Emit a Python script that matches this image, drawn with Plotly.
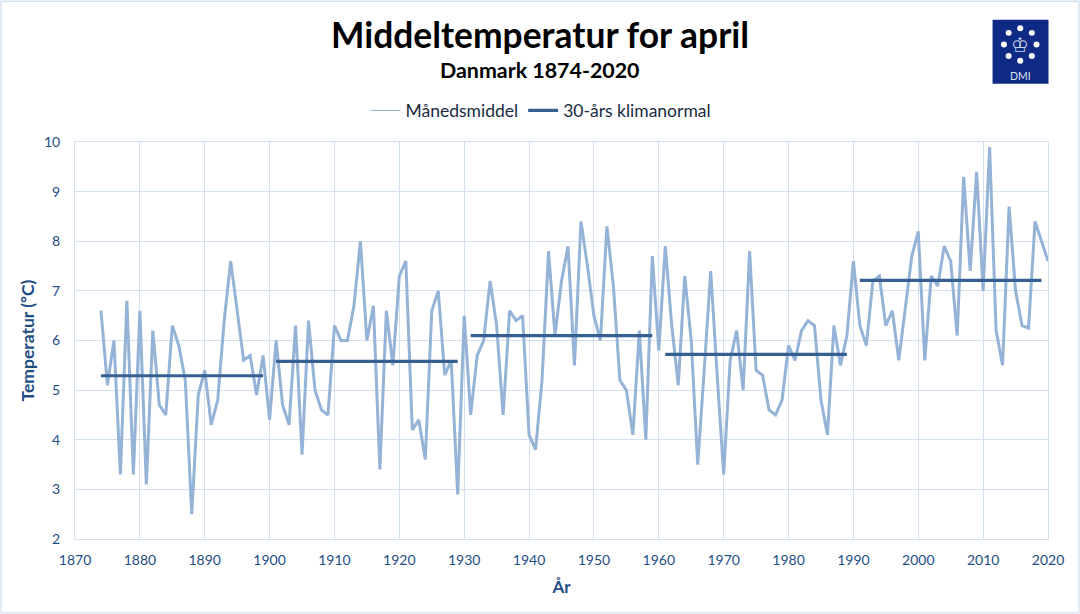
import plotly.graph_objects as go

years = list(range(1874, 2021))
monthly = [
    6.6, 5.1, 6.0, 3.3, 6.8, 3.3, 6.6,                          # 1874-1880
    3.1, 6.2, 4.7, 4.5, 6.3, 5.9, 5.2, 2.5, 4.9, 5.4,            # 1881-1890
    4.3, 4.8, 6.4, 7.6, 6.6, 5.6, 5.7, 4.9, 5.7, 4.4,            # 1891-1900
    6.0, 4.7, 4.3, 6.3, 3.7, 6.4, 5.0, 4.6, 4.5, 6.3,            # 1901-1910
    6.0, 6.0, 6.7, 8.0, 6.0, 6.7, 3.4, 6.6, 5.5, 7.3,            # 1911-1920
    7.6, 4.2, 4.4, 3.6, 6.6, 7.0, 5.3, 5.6, 2.9, 6.5,            # 1921-1930
    4.5, 5.7, 6.0, 7.2, 6.3, 4.5, 6.6, 6.4, 6.5, 4.1,            # 1931-1940
    3.8, 5.2, 7.8, 6.1, 7.2, 7.9, 5.5, 8.4, 7.5, 6.5,            # 1941-1950
    6.0, 8.3, 7.1, 5.2, 5.0, 4.1, 6.2, 4.0, 7.7, 5.8,            # 1951-1960
    7.9, 6.3, 5.1, 7.3, 6.0, 3.5, 5.4, 7.4, 5.3, 3.3,            # 1961-1970
    5.6, 6.2, 5.0, 7.8, 5.4, 5.3, 4.6, 4.5, 4.8, 5.9,            # 1971-1980
    5.6, 6.2, 6.4, 6.3, 4.8, 4.1, 6.3, 5.5, 6.1, 7.6,            # 1981-1990
    6.3, 5.9, 7.2, 7.3, 6.3, 6.6, 5.6, 6.6, 7.7, 8.2,            # 1991-2000
    5.6, 7.3, 7.1, 7.9, 7.6, 6.1, 9.3, 7.4, 9.4, 7.0,            # 2001-2010
    9.9, 6.2, 5.5, 8.7, 7.0, 6.3, 6.25, 8.4, 8.0, 7.6,           # 2011-2020
]
assert len(monthly) == len(years)

normal_years = [1874, 1899, None, 1901, 1929, None, 1931, 1959, None, 1961, 1989, None, 1991, 2019]
normal_values = [5.29, 5.29, None, 5.58, 5.58, None, 6.10, 6.10, None, 5.72, 5.72, None, 7.21, 7.21]

x_ticks = list(range(1870, 2021, 10))
y_ticks = list(range(2, 11))

TITLE = "Middeltemperatur for april"
SUBTITLE = "Danmark 1874-2020"
LEG_MONTH = "Månedsmiddel"
LEG_NORM = "30-års klimanormal"

W, H = 1080, 614
L, R, T, B = 74.5, 1048.5, 141.5, 539.5
FONT = "Lato"
AXC = "#1F4E84"
GRID = "#D3E0F0"
LIGHT = "#95B3D7"
DARK = "#376092"


def px(x):
    return (x - L) / (R - L)


def py(y):
    return (B - y) / (B - T)


fig = go.Figure()
fig.add_trace(go.Scatter(x=years, y=monthly, mode="lines", showlegend=False,
                         line=dict(color=LIGHT, width=3), hoverinfo="x+y"))
fig.add_trace(go.Scatter(x=[None], y=[None], mode="lines", name=LEG_MONTH,
                         line=dict(color=LIGHT, width=1)))
fig.add_trace(go.Scatter(x=normal_years, y=normal_values, mode="lines", name=LEG_NORM,
                         connectgaps=False, line=dict(color=DARK, width=3.2)))

shapes = [
    # page border
    dict(type="rect", xref="paper", yref="paper", x0=px(0.5), x1=px(W - 0.5), y0=py(H - 0.5), y1=py(0.5),
         line=dict(color="#D6E4F2", width=1.5), fillcolor="rgba(0,0,0,0)", layer="below"),
    # logo block
    dict(type="rect", xref="paper", yref="paper", x0=px(993), x1=px(1049), y0=py(83), y1=py(19),
         line=dict(width=0), fillcolor="#0F2A84"),
]
for dx, dy in [(0, -16.3), (11.6, -11.6), (16.3, 0), (11.6, 11.6), (0, 16.3), (-11.6, 11.6), (-16.3, 0), (-11.6, -11.6)]:
    cx, cy = 1020.7 + dx, 43.7 + dy
    shapes.append(dict(type="circle", xref="paper", yref="paper",
                       x0=px(cx - 3), x1=px(cx + 3), y0=py(cy + 3), y1=py(cy - 3),
                       line=dict(width=0), fillcolor="white"))

annotations = [
    dict(text=f"<b>{TITLE}</b>", x=px(539.5), y=py(33.5), xref="paper", yref="paper", showarrow=False,
         xanchor="center", yanchor="middle", font=dict(family=FONT, size=35.4, color="black")),
    dict(text=f"<b>{SUBTITLE}</b>", x=px(539.5), y=py(69.5), xref="paper", yref="paper", showarrow=False,
         xanchor="center", yanchor="middle", font=dict(family=FONT, size=21.4, color="black")),
    dict(text="♔", x=px(1020.7), y=py(44), xref="paper", yref="paper", showarrow=False,
         xanchor="center", yanchor="middle", font=dict(family="DejaVu Sans", size=20, color="#C9D2EC")),
    dict(text="DMI", x=px(1020.7), y=py(75), xref="paper", yref="paper", showarrow=False,
         xanchor="center", yanchor="middle", font=dict(family=FONT, size=10.5, color="#DDE3F3")),
]

axis_common = dict(showgrid=True, gridcolor=GRID, gridwidth=1, showline=True, linecolor=GRID,
                   linewidth=1, mirror=True, zeroline=False, ticks="",
                   tickfont=dict(family=FONT, size=14, color=AXC))

fig.update_layout(
    width=W, height=H, autosize=False,
    margin=dict(l=L, r=W - R, t=T, b=H - B, pad=0),
    paper_bgcolor="white", plot_bgcolor="white",
    font=dict(family=FONT),
    showlegend=True,
    legend=dict(orientation="h", x=px(541), xanchor="center", y=py(110), yanchor="middle",
                font=dict(family=FONT, size=17.5, color="#1A2A44"), itemwidth=30,
                bgcolor="rgba(0,0,0,0)", traceorder="normal"),
    xaxis=dict(range=[1870, 2020], tickvals=x_ticks, ticktext=[str(v) for v in x_ticks],
               ticklabelstandoff=8,
               title=dict(text="<b>År</b>", standoff=14, font=dict(family=FONT, size=17, color=AXC)),
               **axis_common),
    yaxis=dict(range=[2, 10], tickvals=y_ticks, ticktext=[str(v) for v in y_ticks],
               ticklabelstandoff=11,
               title=dict(text="<b>Temperatur (ºC)</b>", standoff=4, font=dict(family=FONT, size=17.5, color=AXC)),
               **axis_common),
    shapes=shapes, annotations=annotations,
)

fig.write_html("out.html", config={"displayModeBar": False},
               post_script="document.body.style.margin='0';document.body.style.overflow='hidden';")
